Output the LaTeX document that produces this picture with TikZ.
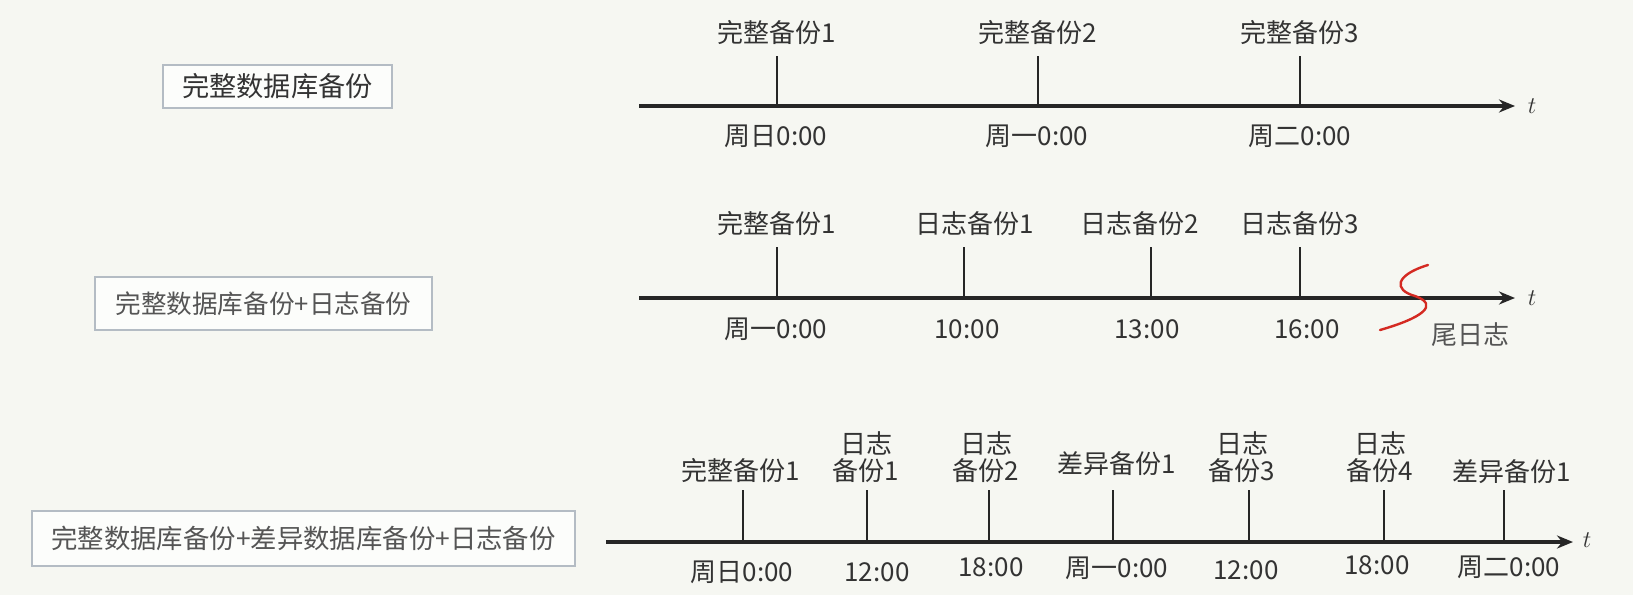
\documentclass[tikz,border=0pt]{standalone}
\usepackage{fontspec}
\newfontfamily\cjk{Noto Sans CJK SC}
\usetikzlibrary{arrows.meta}
\definecolor{bg}{HTML}{F6F7F2}
\definecolor{txt}{HTML}{333333}
\definecolor{txtgrey}{HTML}{555555}
\definecolor{boxline}{HTML}{B4BCC4}
\definecolor{squig}{HTML}{D42A22}
\begin{document}
\begin{tikzpicture}[x=0.5pt,y=-0.5pt,
  axisline/.style={line width=1.9pt,draw=black!85,-{Stealth[length=8pt,width=6.5pt]}},
  tickline/.style={line width=1.3pt,draw=black!85},
  lab/.style={font=\cjk\fontsize{13}{13.5}\selectfont,text=txt,inner sep=0pt,align=center},
  tvar/.style={font=\fontsize{13}{15}\selectfont,text=txt,inner sep=0pt},
  bx/.style={draw=boxline,line width=0.8pt,fill=white!70!bg,inner sep=0pt},
  squigline/.style={draw=squig,line width=1.2pt,line cap=round}]
\fill[bg] (0,0) rectangle (1633,595);
\useasboundingbox (0,0) rectangle (1633,595);

% ---------- Row 1 ----------
\node[bx,minimum width=114.5pt,minimum height=21.5pt,font=\cjk\fontsize{13.6}{15}\selectfont,text=txt] (box1) at (277.5,86.5) {完整数据库备份};
\coordinate (r1s) at (639,106);
\coordinate (r1e) at (1515,106);
\draw[axisline] (r1s) -- (r1e);
\node[tvar] (r1t) at (1532,106) {$t$};
\foreach \n/\x in {a/777,b/1038,c/1300}{
  \coordinate (r1\n b) at (\x,106);
  \coordinate (r1\n t) at (\x,56);
  \draw[tickline] (r1\n b) -- (r1\n t);
}
\node[lab] (r1la) at (777,33) {完整备份1};
\node[lab] (r1lb) at (1038,33) {完整备份2};
\node[lab] (r1lc) at (1300,33) {完整备份3};
\node[lab] (r1da) at (776,136) {周日0:00};
\node[lab] (r1db) at (1037,136) {周一0:00};
\node[lab] (r1dc) at (1300,136) {周二0:00};

% ---------- Row 2 ----------
\node[bx,minimum width=168.5pt,minimum height=26.5pt,font=\cjk\fontsize{12.8}{15}\selectfont,text=txtgrey] (box2) at (263.5,303.5) {完整数据库备份+日志备份};
\coordinate (r2s) at (639,298);
\coordinate (r2e) at (1515,298);
\draw[axisline] (r2s) -- (r2e);
\node[tvar] (r2t) at (1532,298) {$t$};
\foreach \n/\x in {a/777,b/964,c/1151,d/1300}{
  \coordinate (r2\n b) at (\x,298);
  \coordinate (r2\n t) at (\x,247);
  \draw[tickline] (r2\n b) -- (r2\n t);
}
\node[lab] (r2la) at (777,224) {完整备份1};
\node[lab] (r2lb) at (975,224) {日志备份1};
\node[lab] (r2lc) at (1140,224) {日志备份2};
\node[lab] (r2ld) at (1300,224) {日志备份3};
\node[lab] (r2da) at (776,329) {周一0:00};
\node[lab] (r2db) at (967,329) {10:00};
\node[lab] (r2dc) at (1147,329) {13:00};
\node[lab] (r2dd) at (1307,329) {16:00};
\coordinate (sqa) at (1428,265);
\coordinate (sqb) at (1415,296);
\coordinate (sqc) at (1380,330);
\draw[squigline] (sqa) .. controls (1395,275) and (1393,290) .. (sqb) .. controls (1440,305) and (1422,318) .. (sqc);
\node[lab,text=txtgrey] (tail) at (1470,335) {尾日志};

% ---------- Row 3 ----------
\node[bx,minimum width=271.5pt,minimum height=27.5pt,font=\cjk\fontsize{13.2}{16}\selectfont,text=txtgrey] (box3) at (303.5,538.5) {完整数据库备份+差异数据库备份+日志备份};
\coordinate (r3s) at (606,542);
\coordinate (r3e) at (1573,542);
\draw[axisline] (r3s) -- (r3e);
\node[tvar] (r3t) at (1587,540) {$t$};
\foreach \n/\x in {a/743,b/867,c/989,d/1113,e/1249,f/1384,g/1504}{
  \coordinate (r3\n b) at (\x,542);
  \coordinate (r3\n t) at (\x,490);
  \draw[tickline] (r3\n b) -- (r3\n t);
}
\node[lab] (r3la) at (741,471) {完整备份1};
\node[lab] (r3lb) at (866,457) {日志\\备份1};
\node[lab] (r3lc) at (986,457) {日志\\备份2};
\node[lab] (r3ld) at (1117,464) {差异备份1};
\node[lab] (r3le) at (1242,457) {日志\\备份3};
\node[lab] (r3lf) at (1380,457) {日志\\备份4};
\node[lab] (r3lg) at (1512,472) {差异备份1};
\node[lab] (r3da) at (742,572) {周日0:00};
\node[lab] (r3db) at (877,572) {12:00};
\node[lab] (r3dc) at (991,567) {18:00};
\node[lab] (r3dd) at (1117,568) {周一0:00};
\node[lab] (r3de) at (1246,570) {12:00};
\node[lab] (r3df) at (1377,565) {18:00};
\node[lab] (r3dg) at (1509,567) {周二0:00};
\end{tikzpicture}
\end{document}
